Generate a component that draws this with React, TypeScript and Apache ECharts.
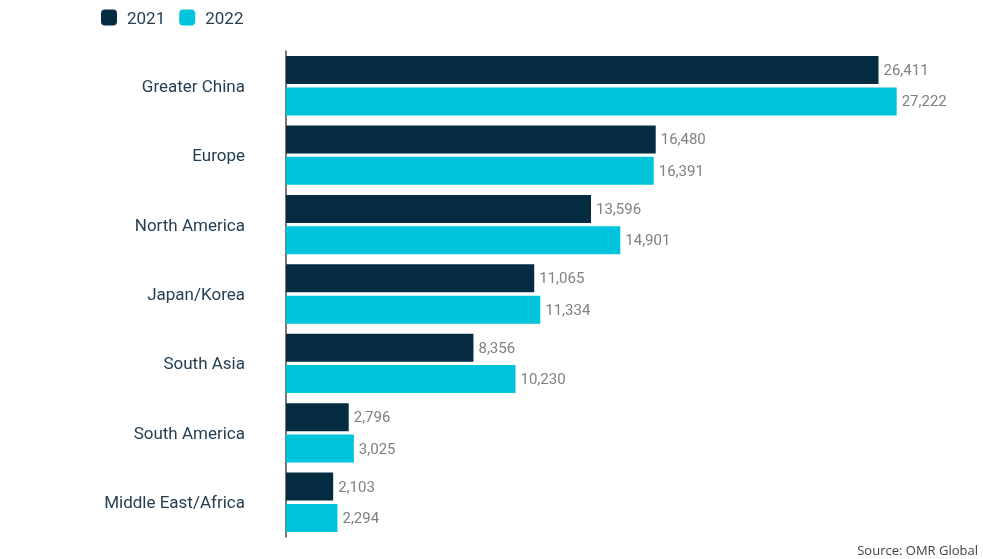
import React, { useEffect, useRef } from "react";
import * as echarts from "echarts";

const categories = [
  "Greater China",
  "Europe",
  "North America",
  "Japan/Korea",
  "South Asia",
  "South America",
  "Middle East/Africa",
];
const values2021 = [26411, 16480, 13596, 11065, 8356, 2796, 2103];
const values2022 = [27222, 16391, 14901, 11334, 10230, 3025, 2294];
const seriesNames = ["2021", "2022"];
const sourceText = "Source: OMR Global";

export default function App() {
  const ref = useRef<HTMLDivElement>(null);
  useEffect(() => {
    const chart = echarts.init(ref.current!, null, { renderer: "svg" });
    const labelCfg = {
      show: true,
      position: "right",
      distance: 5,
      color: "#808080",
      fontSize: 15,
      fontFamily: "Roboto",
      formatter: (p: any) => Number(p.value).toLocaleString("en-US"),
    };
    chart.setOption({
      animation: false,
      textStyle: { fontFamily: "Roboto" },
      legend: {
        left: 101,
        top: 9,
        padding: 0,
        itemWidth: 16,
        itemHeight: 16,
        itemGap: 14,
        icon: "roundRect",
        textStyle: {
          fontSize: 17,
          color: "#243f53",
          fontFamily: "Roboto",
          padding: [0, 0, 0, 5],
        },
        data: seriesNames,
      },
      grid: { left: 286, top: 51, width: 673, height: 486, containLabel: false },
      xAxis: {
        type: "value",
        min: 0,
        max: 30000,
        show: false,
      },
      yAxis: {
        type: "category",
        inverse: true,
        data: categories,
        axisLine: { show: true, lineStyle: { color: "#4d4d4d", width: 1.5 } },
        axisTick: { show: false },
        axisLabel: { color: "#243f53", fontSize: 17, margin: 41, fontFamily: "Roboto" },
      },
      graphic: [
        {
          type: "text",
          right: 5,
          bottom: 3,
          style: { text: sourceText, fontSize: 13, fill: "#404040", fontFamily: "Open Sans" },
        },
      ],
      series: [
        {
          name: seriesNames[0],
          type: "bar",
          data: values2021,
          barWidth: 28,
          barGap: "12%",
          itemStyle: { color: "#052c40" },
          label: labelCfg,
        },
        {
          name: seriesNames[1],
          type: "bar",
          data: values2022,
          barWidth: 28,
          barGap: "12%",
          itemStyle: { color: "#00c4dc" },
          label: labelCfg,
        },
      ],
    });
    return () => chart.dispose();
  }, []);
  return <div ref={ref} style={{ width: 983, height: 559, position: "fixed", left: 0, top: 0 }} />;
}
